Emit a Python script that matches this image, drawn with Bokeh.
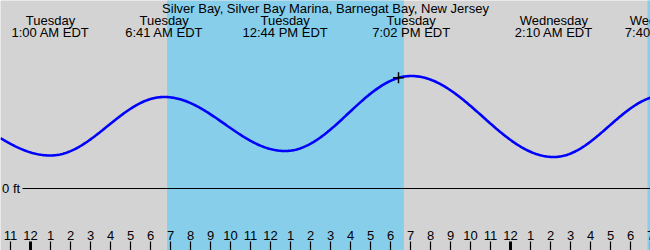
import numpy as np
from bokeh.plotting import figure
from bokeh.models import ColumnDataSource
from bokeh.core.properties import value
from bokeh.embed import file_html
from bokeh.resources import INLINE

TITLE = "Silver Bay, Silver Bay Marina, Barnegat Bay, New Jersey"

# Tide extremes: hours since Tuesday 00:00 EDT, height in ft
tide_hours = [-5.5, 1.0, 6.683, 12.733, 19.033, 26.167, 31.667]
tide_heights = [0.58, 0.22, 0.61, 0.25, 0.75, 0.21, 0.62]

# Labelled extremes shown on the chart
label_hours = [1.0, 6.683, 12.733, 19.033, 26.167, 31.667]
label_days = ["Tuesday", "Tuesday", "Tuesday", "Tuesday", "Wednesday", "Wednesday"]
label_times = ["1:00 AM EDT", "6:41 AM EDT", "12:44 PM EDT", "7:02 PM EDT", "2:10 AM EDT", "7:40 AM EDT"]

# Daylight windows (hours)
sunrise_hours = [6.83, 30.85]
sunset_hours = [18.67, 42.67]

# Current-time marker
now_hour = 18.4

# Hour ticks
tick_hours = list(range(-1, 32))
tick_labels = ["11", "12", "1", "2", "3", "4", "5", "6", "7", "8", "9", "10", "11",
               "12", "1", "2", "3", "4", "5", "6", "7", "8", "9", "10", "11",
               "12", "1", "2", "3", "4", "5", "6", "7"]

W, H = 650, 250
PX_PER_FT = 150.0
ZERO_PX = 188.0
X0 = -1.5
X1 = 31.0


def py(px):
    return (ZERO_PX - px) / PX_PER_FT


def tide_at(h):
    t = np.asarray(tide_hours)
    v = np.asarray(tide_heights)
    i = np.clip(np.searchsorted(t, h) - 1, 0, len(t) - 2)
    f = (h - t[i]) / (t[i + 1] - t[i])
    w = (1 - np.cos(np.pi * f)) / 2
    return v[i] + (v[i + 1] - v[i]) * w


p = figure(width=W, height=H, x_range=(X0, X1), y_range=(py(H), py(0)),
           output_backend="svg", toolbar_location=None, min_border=0)
p.axis.visible = False
p.grid.visible = False
p.outline_line_color = None
p.background_fill_color = "#d3d3d3"
p.border_fill_color = "#d3d3d3"

FONT = value("Liberation Sans")

# daylight
p.quad(left=sunrise_hours, right=sunset_hours, bottom=[py(H) - 1] * 2, top=[py(0) + 1] * 2,
       fill_color="#87ceeb", line_color=None)

# zero line
p.segment(x0=[X0 + 1.1], y0=[0], x1=[X1 + 1], y1=[0], line_color="black", line_width=1.2)
p.text(x=[X0 + 0.08], y=[py(188)], text=["0 ft"], text_font=FONT,
       text_font_size="13px", text_baseline="middle", text_align="left", text_color="black")

# tide curve
hh = np.linspace(X0, X1 + 0.5, 600)
p.line(hh, tide_at(hh), line_color="#0000ff", line_width=2.6)

# current marker
p.scatter(x=[now_hour], y=[float(tide_at(now_hour))], marker="cross", size=11,
          line_color="black", line_width=1.5)

# title
p.text(x=[(X0 + X1) / 2], y=[py(7.5)], text=[TITLE], text_font=FONT,
       text_font_size="13px", text_align="center", text_baseline="middle", text_color="black")

# extreme labels
src = ColumnDataSource(dict(x=label_hours, d=label_days, t=label_times))
p.text(x="x", y=py(20), text="d", source=src, text_font=FONT,
       text_font_size="13px", text_align="center", text_baseline="middle", text_color="black")
p.text(x="x", y=py(31.5), text="t", source=src, text_font=FONT,
       text_font_size="13px", text_align="center", text_baseline="middle", text_color="black")

# hour ticks
widths = [3 if (h % 24 == 0) else 1.2 for h in tick_hours]
tsrc = ColumnDataSource(dict(x=tick_hours, lab=tick_labels, w=widths))
p.segment(x0="x", y0=py(241), x1="x", y1=py(251), source=tsrc, line_color="black", line_width="w")
p.text(x="x", y=py(234.5), text="lab", source=tsrc, text_font=FONT,
       text_font_size="13px", text_align="center", text_baseline="middle", text_color="black")

open("out.html", "w").write(file_html(p, INLINE))
